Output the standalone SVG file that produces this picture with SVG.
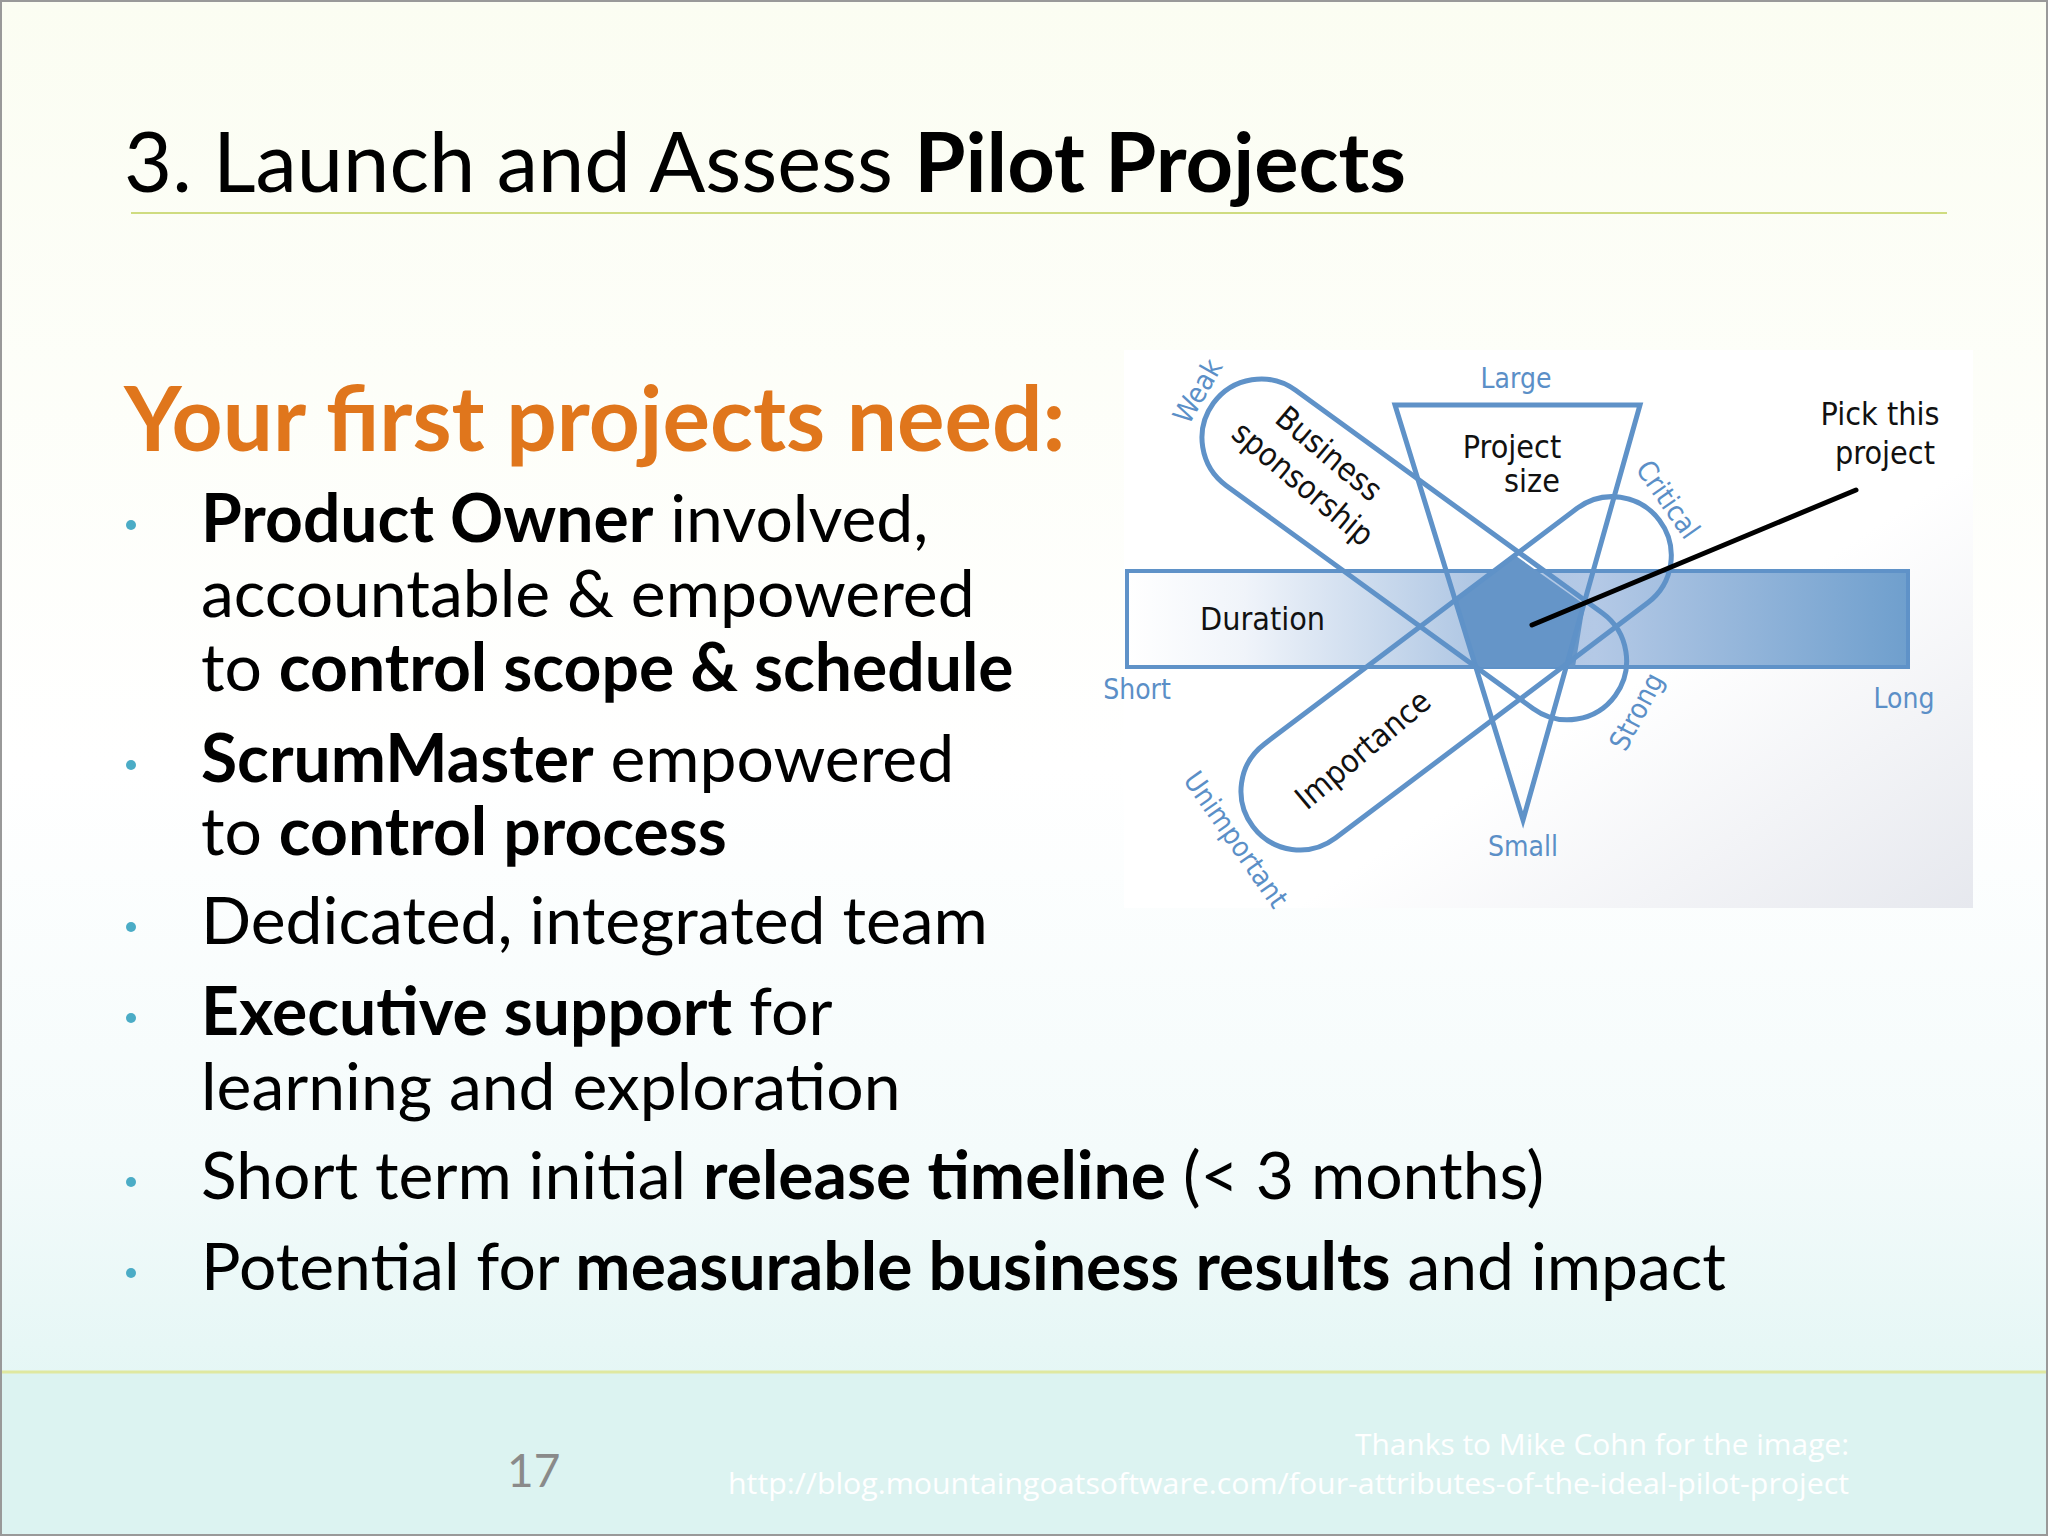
<svg xmlns="http://www.w3.org/2000/svg" width="2048" height="1536" viewBox="0 0 2048 1536">
<defs>
<linearGradient id="bg" x1="0" y1="0" x2="0" y2="1">
<stop offset="0" stop-color="#fbfdf2"/><stop offset="0.5" stop-color="#ffffff"/><stop offset="0.75" stop-color="#f4fbfb"/><stop offset="1" stop-color="#daf3f1"/>
</linearGradient>
<linearGradient id="img" x1="0" y1="0" x2="1" y2="1">
<stop offset="0" stop-color="#ffffff"/><stop offset="0.6" stop-color="#ffffff"/><stop offset="1" stop-color="#e6e8ee"/>
</linearGradient>
<linearGradient id="bar" x1="0" y1="0" x2="1" y2="0">
<stop offset="0" stop-color="#ffffff"/><stop offset="0.15" stop-color="#f0f4fa"/><stop offset="0.45" stop-color="#aec6e3"/><stop offset="0.6" stop-color="#b4c9e6"/><stop offset="1" stop-color="#6f9fcd"/>
</linearGradient>
<style>
.t{font-family:Lato,"Open Sans",sans-serif;fill:#000}
.b{font-weight:bold}
.bl{font-family:"DejaVu Sans Condensed","DejaVu Sans",sans-serif;fill:#5b8fc7;font-size:28px}
.hw{font-family:"DejaVu Sans Condensed","DejaVu Sans",sans-serif;fill:#111;font-size:32px}
.dot{fill:#4bacc6}
.st{fill:none;stroke:#5f92c8;stroke-width:5}
</style>
</defs>
<rect width="2048" height="1536" fill="url(#bg)"/>
<rect x="0" y="1372" width="2048" height="164" fill="#dcf3f1"/>
<line x1="0" y1="1372" x2="2048" y2="1372" stroke="#dfe8a0" stroke-width="3"/>
<rect x="1" y="1" width="2046" height="1534" fill="none" stroke="#999" stroke-width="2"/>
<g id="title">
<text class="t" x="124" y="192" font-size="83">3. Launch and Assess <tspan class="b">Pilot Projects</tspan></text>
<line x1="131" y1="213" x2="1947" y2="213" stroke="#cfdc80" stroke-width="2"/>
</g>
<g id="heading"><text class="t b" x="124" y="451" font-size="89" style="fill:#e0761c">Your first projects need:</text></g>
<g id="bullets">
<circle class="dot" cx="131" cy="525" r="5"/><circle class="dot" cx="131" cy="765" r="5"/><circle class="dot" cx="131" cy="927" r="5"/><circle class="dot" cx="131" cy="1018" r="5"/><circle class="dot" cx="131" cy="1182" r="5"/><circle class="dot" cx="131" cy="1273" r="5"/>
<text class="t" x="201" y="542" font-size="66"><tspan class="b">Product Owner</tspan> involved,</text>
<text class="t" x="201" y="617" font-size="66">accountable &amp; empowered</text>
<text class="t" x="201" y="691" font-size="66">to <tspan class="b">control scope &amp; schedule</tspan></text>
<text class="t" x="201" y="782" font-size="66"><tspan class="b">ScrumMaster</tspan> empowered</text>
<text class="t" x="201" y="855" font-size="66">to <tspan class="b">control process</tspan></text>
<text class="t" x="201" y="944" font-size="66">Dedicated, integrated team</text>
<text class="t" x="201" y="1035" font-size="66"><tspan class="b">Executive support</tspan> for</text>
<text class="t" x="201" y="1110" font-size="66">learning and exploration</text>
<text class="t" x="201" y="1199" font-size="66">Short term initial <tspan class="b">release timeline</tspan> (&lt; 3 months)</text>
<text class="t" x="201" y="1290" font-size="66">Potential for <tspan class="b">measurable business results</tspan> and impact</text>
</g>
<g id="diagram">
<rect x="1124" y="350" width="849" height="558" fill="url(#img)"/>
<rect x="1127" y="571" width="781" height="96" fill="url(#bar)" stroke="#5f92c8" stroke-width="4"/>
<polygon points="1516,556 1585,605 1575,667 1474,667 1455,601" fill="#6595c8"/>
<polygon class="st" points="1395,405 1640,405 1523,820"/>
<rect class="st" x="-59" y="-59" width="497" height="118" rx="59" transform="translate(1261,438) rotate(36)"/>
<rect class="st" x="-59" y="-59" width="509" height="118" rx="59" transform="translate(1300,791) rotate(-37)"/>
<line x1="1532" y1="625" x2="1856" y2="490" stroke="#000" stroke-width="5" stroke-linecap="round"/>
<text class="bl" x="1516" y="388" text-anchor="middle">Large</text>
<text class="bl" x="1523" y="856" text-anchor="middle">Small</text>
<text class="bl" x="1137" y="699" text-anchor="middle">Short</text>
<text class="bl" x="1904" y="708" text-anchor="middle">Long</text>
<text class="bl" text-anchor="middle" transform="translate(1206,396) rotate(-60)">Weak</text>
<text class="bl" text-anchor="middle" transform="translate(1660,505) rotate(55)">Critical</text>
<text class="bl" text-anchor="middle" transform="translate(1645,716) rotate(-62)">Strong</text>
<text class="bl" text-anchor="middle" transform="translate(1228,845) rotate(55)">Unimportant</text>
<text class="hw" x="1512" y="458" text-anchor="middle">Project</text>
<text class="hw" x="1532" y="492" text-anchor="middle">size</text>
<text class="hw" x="1880" y="425" text-anchor="middle" font-size="38">Pick this</text>
<text class="hw" x="1885" y="464" text-anchor="middle" font-size="38">project</text>
<text class="hw" x="1200" y="630">Duration</text>
<text class="hw" text-anchor="middle" transform="translate(1322,462) rotate(40)">Business</text>
<text class="hw" text-anchor="middle" transform="translate(1296,492) rotate(40)">sponsorship</text>
<text class="hw" text-anchor="middle" transform="translate(1370,758) rotate(-40)">Importance</text>
</g>
<g id="footer">
<text x="507" y="1487" font-family="Lato,sans-serif" font-size="46" fill="#8a8a8a">17</text>
<text x="1849" y="1455" text-anchor="end" font-family="'Open Sans',sans-serif" font-size="29" fill="#ffffff" textLength="494" lengthAdjust="spacingAndGlyphs">Thanks to Mike Cohn for the image:</text>
<text x="1849" y="1494" text-anchor="end" font-family="'Open Sans',sans-serif" font-size="29" fill="#ffffff" textLength="1121" lengthAdjust="spacingAndGlyphs">http://blog.mountaingoatsoftware.com/four-attributes-of-the-ideal-pilot-project</text>
</g>
</svg>
